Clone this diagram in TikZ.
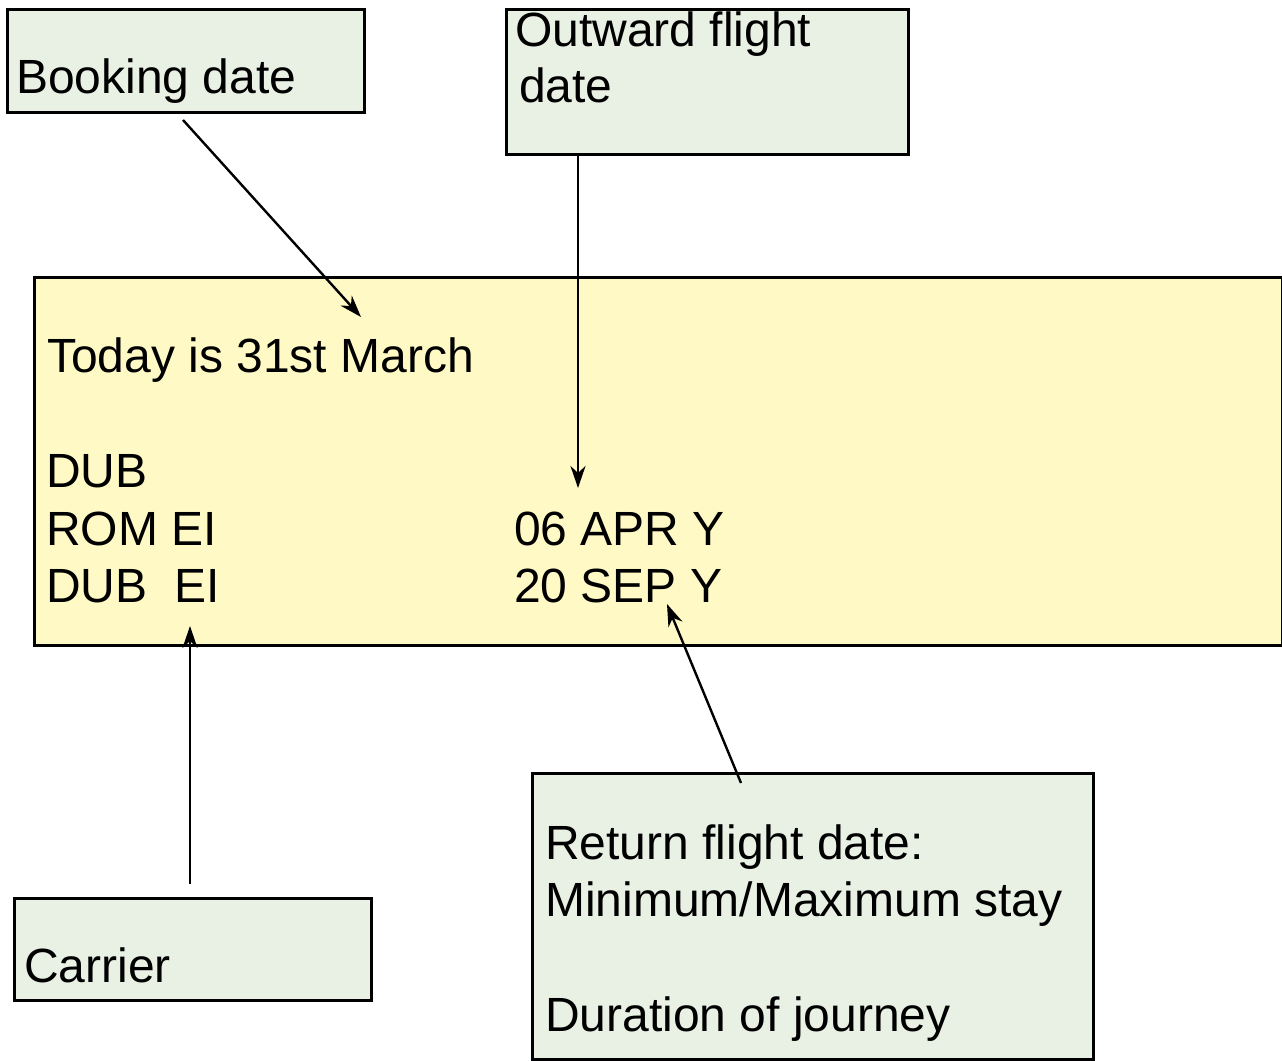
\documentclass[tikz,border=0pt]{standalone}
\usepackage{fontspec}
\setmainfont{Liberation Sans}
\usetikzlibrary{arrows.meta}
\definecolor{noteg}{HTML}{E9F1E5}
\definecolor{mainy}{HTML}{FFF9C5}
\tikzset{
  box/.style={draw=black, line width=2.6pt, anchor=north west, inner sep=0pt},
  notebox/.style={box, fill=noteg},
  mainbox/.style={box, fill=mainy},
  txt/.style={anchor=base west, inner sep=0pt, font=\fontsize{48}{57.5}\selectfont},
  pointer/.style={line width=2.4pt, -{Stealth[length=22pt,width=15pt,inset=7pt]}}
}
\begin{document}
\begin{tikzpicture}[x=1pt,y=-1pt]
\useasboundingbox[fill=white] (0,0) rectangle (1282,1060);
% boxes
\node[mainbox, minimum width=1248pt, minimum height=368pt] (main) at (33,276) {};
\node[notebox, minimum width=357pt, minimum height=103pt] (booking) at (6,8) {};
\node[notebox, minimum width=402pt, minimum height=145pt] (outward) at (505,8) {};
\node[notebox, minimum width=357pt, minimum height=102pt] (carrier) at (13,897) {};
\node[notebox, minimum width=561pt, minimum height=286pt] (return) at (531,772) {};
% texts
\node[txt] (tbook) at (16,93) {Booking date};
\node[txt] (tout1) at (515,46) {Outward flight};
\node[txt] (tout2) at (519,102) {date};
\node[txt] (ttoday) at (47,372) {Today is 31st March};
\node[txt] (tdub) at (46,487) {DUB};
\node[txt] (trom) at (46,545) {ROM EI};
\node[txt] (tdub2) at (46,602) {DUB\ \ EI};
\node[txt] (tapr) at (514,545) {06 APR Y};
\node[txt] (tsep) at (514,602) {20 SEP Y};
\node[txt] (tcar) at (24,982) {Carrier};
\node[txt] (tret1) at (545,859) {Return flight date:};
\node[txt] (tret2) at (545,916) {Minimum/Maximum stay};
\node[txt] (tret3) at (545,1031) {Duration of journey};
% connector ends
\coordinate (bookS) at (183,120);
\coordinate (bookE) at (361,317);
\coordinate (outS) at (578,153);
\coordinate (outE) at (578,488);
\coordinate (carS) at (190,884);
\coordinate (carE) at (190,626);
\coordinate (retS) at (741,783);
\coordinate (retE) at (667,604);
\draw[pointer] (bookS) -- (bookE);
\draw[pointer] (outS) -- (outE);
\draw[pointer] (carS) -- (carE);
\draw[pointer] (retS) -- (retE);
\end{tikzpicture}
\end{document}
